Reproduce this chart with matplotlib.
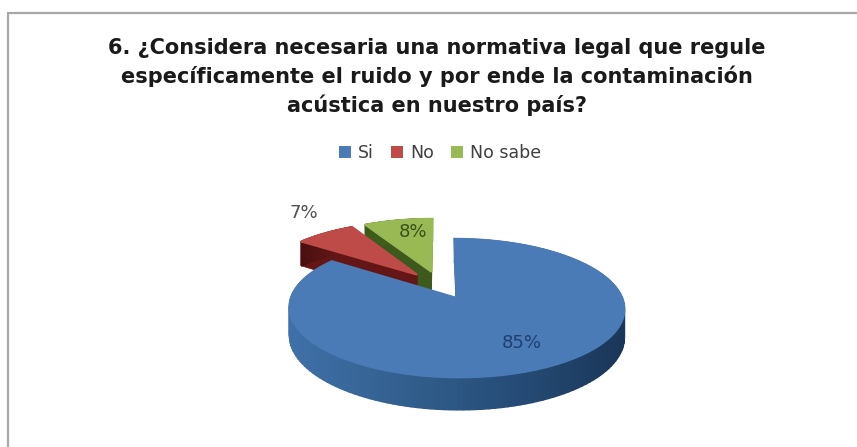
import numpy as np
import matplotlib
matplotlib.use("Agg")
import matplotlib.pyplot as plt
from matplotlib.colors import LinearSegmentedColormap
from matplotlib.patches import Polygon, Rectangle

categories = ["Si", "No", "No sabe"]
values = [85, 7, 8]
top_colors = ["#4a7bb7", "#be4b48", "#98b954"]
edge_colors = ["#2c5586", "#641616", "#3d5a1c"]
wall_ramps = [
    ["#3f70a8", "#33608f", "#264d78", "#1a3658"],
    ["#4a0f0f", "#6a1a1a"],
    ["#3d5a1c", "#45651f"],
]
label_colors = ["#1f3f70", "#505050", "#37511c"]
label_pos = [(522, 343), (304, 213), (413, 232)]
title = ("6. ¿Considera necesaria una normativa legal que regule\n"
         "específicamente el ruido y por ende la contaminación\n"
         "acústica en nuestro país?")

# pie projection, in pixels
CX, CY = 440, 285
RX, RY = 161, 64
TILT = 1 / 7
DEPTH = 27
EXPLODE = 0.22


def project(u, v, z=0.0):
    w = 1 + TILT * v
    return CX + RX * u / w, CY - (RY * v - z) / w


def slice_outline(a0, a1):
    # clockwise from north, offset along the middle of the slice
    mid = (a0 + a1) / 2
    ou, ov = EXPLODE * np.sin(mid), EXPLODE * np.cos(mid)
    t = np.linspace(a0, a1, 160)
    return ou, ov, ou + np.sin(t), ov + np.cos(t)


def draw_slice(ax, a0, a1, top, edge, ramp):
    ou, ov, u, v = slice_outline(a0, a1)
    cmap = LinearSegmentedColormap.from_list("wall", ramp)
    # radial side faces first
    for eu, ev in ((u[0], v[0]), (u[-1], v[-1])):
        pts = [project(ou, ov), project(eu, ev), project(eu, ev, DEPTH), project(ou, ov, DEPTH)]
        ax.add_patch(Polygon(pts, closed=True, fc=edge, ec=edge, lw=0.4))
    # rim, shaded left to right
    x0, x1 = project(u, v)[0].min(), project(u, v)[0].max()
    for i in range(len(u) - 1):
        pts = [project(u[i], v[i]), project(u[i + 1], v[i + 1]),
               project(u[i + 1], v[i + 1], DEPTH), project(u[i], v[i], DEPTH)]
        c = cmap((pts[0][0] - x0) / max(x1 - x0, 1))
        ax.add_patch(Polygon(pts, closed=True, fc=c, ec=c, lw=1.0))
    x, y = project(np.r_[ou, u], np.r_[ov, v])
    ax.add_patch(Polygon(np.c_[x, y], closed=True, fc=top, ec=top, lw=1.5))


fig = plt.figure(figsize=(8.57, 4.47), dpi=100)
ax = fig.add_axes([0, 0, 1, 1])
ax.set_xlim(0, 857)
ax.set_ylim(447, 0)
ax.axis("off")

# chart frame runs off the right and bottom
ax.add_patch(Rectangle((8, 12.5), 870, 450, fc="white", ec="#a8a8a8", lw=1.6))

angles = 2 * np.pi * np.cumsum([0] + values) / sum(values)
for i in (2, 1, 0):
    draw_slice(ax, angles[i], angles[i + 1], top_colors[i], edge_colors[i], wall_ramps[i])

for val, (lx, ly), col in zip(values, label_pos, label_colors):
    ax.text(lx, ly, f"{val}%", ha="center", va="center", fontsize=13, color=col)

ax.text(437, 77, title, ha="center", va="center", fontsize=15, fontweight="bold",
        color="#1a1a1a", linespacing=1.44)

handles = [Rectangle((0, 0), 1, 1, fc=c, ec="none") for c in top_colors]
ax.legend(handles, categories, loc="center", bbox_to_anchor=(440 / 857, 1 - 153 / 447),
          ncol=3, frameon=False, handlelength=0.7, handleheight=0.7, handletextpad=0.4,
          columnspacing=1.0, prop={"size": 12.5}, labelcolor="#404040")

fig.savefig("out.png", dpi=100)
